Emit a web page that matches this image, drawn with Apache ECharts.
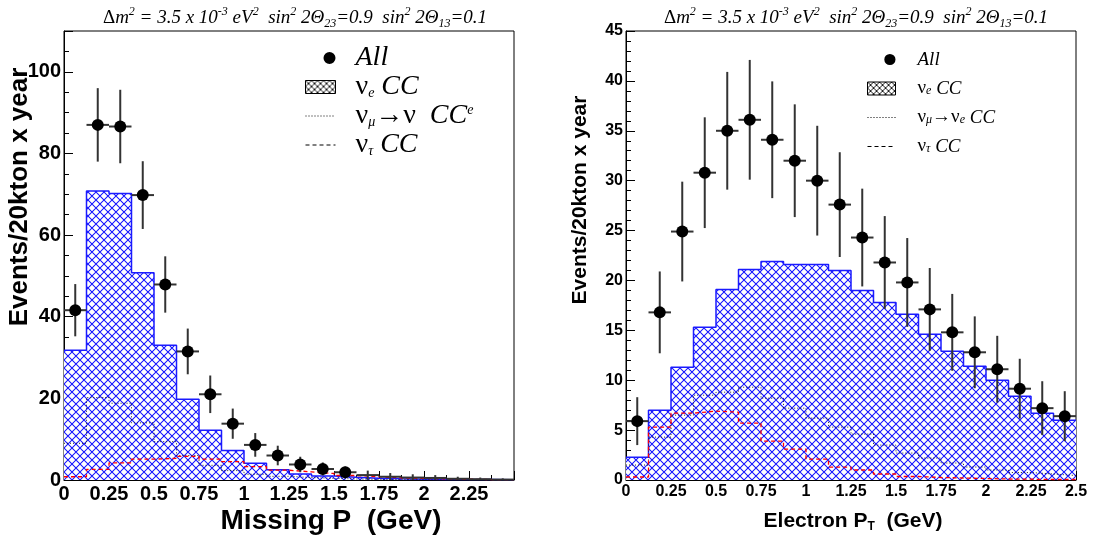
<!DOCTYPE html>
<html>
<head>
<meta charset="utf-8">
<script src="https://cdn.jsdelivr.net/npm/echarts@6/dist/echarts.min.js"></script>
<style>
html, body { margin: 0; padding: 0; background: #fff; }
#main { width: 1097px; height: 541px; }
</style>
</head>
<body>
<div id="main"></div>
<script>
// bin edges (GeV), same binning for both panels
var binEdges = [0, 0.125, 0.25, 0.375, 0.5, 0.625, 0.75, 0.875, 1, 1.125, 1.25,
	1.375, 1.5, 1.625, 1.75, 1.875, 2, 2.125, 2.25, 2.375, 2.5];

// left panel: missing P
var allMissP = [41.6, 87.0, 86.6, 69.8, 47.9, 31.5, 21.0, 13.8, 8.6, 6.0, 3.8, 2.7, 1.9, 1.2, 0.8, 0.6, 0.5, 0.3, 0.2, 0.1];
var errMissP = [6.4, 9.0, 9.0, 8.3, 6.9, 5.6, 4.6, 3.7, 2.9, 2.4, 1.9, 1.6, 1.4, 1.1, 0.9, 0.8, 0.7, 0.5, 0.4, 0.3];
var nueMissP = [31.8, 70.8, 70.2, 50.8, 33.0, 19.8, 12.2, 7.2, 4.1, 2.5, 1.5, 1.0, 0.65, 0.45, 0.3, 0.2, 0.15, 0.1, 0.1, 0.05];
var numuMissP = [9.0, 20.2, 18.8, 14.0, 9.4, 6.0, 3.6, 2.3, 1.4, 0.9, 0.6, 0.4, 0.25, 0.15, 0.1, 0.08, 0.05, 0.03, 0.02, 0.01];
var nutauMissP = [0.8, 2.6, 4.2, 5.1, 5.3, 5.8, 5.1, 4.5, 3.3, 2.4, 2.0, 1.6, 1.1, 0.8, 0.5, 0.4, 0.3, 0.2, 0.1, 0.1];

// right panel: electron pT
var allPt = [5.9, 16.8, 24.9, 30.8, 35.0, 36.1, 34.1, 32.0, 30.0, 27.6, 24.3, 21.8, 19.8, 17.1, 14.8, 12.8, 11.1, 9.15, 7.2, 6.4];
var errPt = [2.4, 4.1, 5.0, 5.55, 5.9, 6.0, 5.85, 5.65, 5.5, 5.25, 4.9, 4.65, 4.45, 4.15, 3.85, 3.6, 3.35, 3.0, 2.7, 2.5];
var nuePt = [2.27, 7.0, 11.3, 15.3, 19.1, 21.1, 21.9, 21.6, 21.6, 21.0, 19.0, 17.8, 16.6, 14.6, 12.9, 11.4, 10.0, 8.4, 6.7, 6.0];
var numuPt = [1.5, 4.3, 6.5, 8.5, 8.8, 9.3, 8.2, 7.2, 6.2, 5.3, 4.6, 3.5, 2.7, 2.2, 1.7, 1.3, 1.0, 0.75, 0.6, 0.45];
var nutauPt = [0.3, 5.3, 6.7, 6.9, 6.8, 5.7, 3.9, 3.1, 2.1, 1.3, 1.0, 0.6, 0.35, 0.25, 0.2, 0.15, 0.1, 0.08, 0.05, 0.05];

var titleText = '{g|Δ}{it|m}{sup|2}{it| = 3.5 x 10}{sup|-3}{it| eV}{sup|2}{it|  sin}{sup|2}{it| 2Θ}{sub|23}{it|=0.9  sin}{sup|2}{it| 2Θ}{sub|13}{it|=0.1}';
var yTitle = 'Events/20kton x year';

var legendLeft = {
	'All': '{it|All}',
	'νe CC': '{n|ν}{sub|e}{it| CC}',
	'νμ→νe CC': '{n|ν}{sub|μ}{n|→ν  }{it|CC}{sup|e}',
	'ντ CC': '{n|ν}{sub|τ}{it| CC}'
};
var legendRight = {
	'All': '{it|All}',
	'νe CC': '{n|ν}{sub|e}{it| CC}',
	'νμ→νe CC': '{n|ν}{sub|μ}{n|→ν}{sub|e}{it| CC}',
	'ντ CC': '{n|ν}{sub|τ}{it| CC}'
};

function makeHatch(color, size, lw) {
	var c = document.createElement('canvas');
	c.width = size; c.height = size;
	var ctx = c.getContext('2d');
	ctx.fillStyle = '#fff';
	ctx.fillRect(0, 0, size, size);
	ctx.strokeStyle = color;
	ctx.lineWidth = lw;
	ctx.beginPath();
	ctx.moveTo(-1, -1); ctx.lineTo(size + 1, size + 1);
	ctx.moveTo(size + 1, -1); ctx.lineTo(-1, size + 1);
	ctx.stroke();
	return c;
}
var blueHatch = { image: makeHatch('#1414ff', 8, 1.05), repeat: 'repeat' };
var blackHatch = { image: makeHatch('#000', 6, 0.9), repeat: 'repeat' };

// circle drawn at the right end of the icon box, like the reference legend
var dotIcon = 'path://M0,6L0.01,6L0,6.01Z M24,0A6,6 0 1 1 24,12A6,6 0 1 1 24,0Z';

function histData(vals) {
	var d = vals.map(function (v, i) { return [binEdges[i], v]; });
	d.push([binEdges[vals.length], vals[vals.length - 1]]);
	return d;
}
function pointData(vals, errs) {
	return vals.map(function (v, i) {
		return [(binEdges[i] + binEdges[i + 1]) / 2, v, errs[i], binEdges[i], binEdges[i + 1]];
	});
}

function errorBars(params, api) {
	var xc = api.value(0), y = api.value(1), e = api.value(2);
	var lo = api.value(3), hi = api.value(4);
	var pLo = api.coord([xc, Math.max(y - e, 0)]);
	var pHi = api.coord([xc, y + e]);
	var pL = api.coord([lo, y]);
	var pR = api.coord([hi, y]);
	var st = { stroke: '#333', lineWidth: 2 };
	return {
		type: 'group',
		children: [
			{ type: 'line', shape: { x1: pLo[0], y1: pLo[1], x2: pHi[0], y2: pHi[1] }, style: st },
			{ type: 'line', shape: { x1: pL[0], y1: pL[1], x2: pR[0], y2: pR[1] }, style: st }
		]
	};
}

function panelSeries(idx, all, err, nue, numu, nutau, dotSize) {
	return [
		{
			name: 'νe CC', type: 'line', xAxisIndex: idx, yAxisIndex: idx,
			step: 'end', symbol: 'none', z: 1,
			lineStyle: { color: '#1a1aff', width: 1.5 },
			itemStyle: { color: '#1a1aff' },
			areaStyle: { color: blueHatch, opacity: 1 },
			data: histData(nue)
		},
		{
			name: 'νμ→νe CC', type: 'line', xAxisIndex: idx, yAxisIndex: idx,
			step: 'end', symbol: 'none', z: 3,
			lineStyle: { color: '#222', width: 1, type: [1, 2] },
			itemStyle: { color: '#222' },
			data: histData(numu)
		},
		{
			name: 'ντ CC', type: 'line', xAxisIndex: idx, yAxisIndex: idx,
			step: 'end', symbol: 'none', z: 3,
			lineStyle: { color: '#ff0000', width: 1.3, type: [4, 3] },
			itemStyle: { color: '#ff0000' },
			data: histData(nutau)
		},
		{
			name: 'err', type: 'custom', xAxisIndex: idx, yAxisIndex: idx, z: 4,
			renderItem: errorBars, data: pointData(all, err)
		},
		{
			name: 'All', type: 'scatter', xAxisIndex: idx, yAxisIndex: idx, z: 5,
			symbolSize: function (v) { return v[1] >= 1.5 ? dotSize : 0; },
			itemStyle: { color: '#000', opacity: 1 },
			data: pointData(all, err).map(function (p) { return [p[0], p[1]]; })
		}
	];
}

function legendRich(big, small) {
	return {
		it: { fontFamily: 'Liberation Serif', fontStyle: 'italic', fontWeight: 'normal', fontSize: big, color: '#000', lineHeight: big - 2 },
		n: { fontFamily: 'Liberation Serif', fontWeight: 'normal', fontSize: big, color: '#000', lineHeight: big - 2 },
		sub: { fontFamily: 'Liberation Serif', fontStyle: 'italic', fontWeight: 'normal', fontSize: small, color: '#000', verticalAlign: 'bottom' },
		sup: { fontFamily: 'Liberation Serif', fontStyle: 'italic', fontWeight: 'normal', fontSize: small, color: '#000', verticalAlign: 'top' }
	};
}

function legendOpt(left, top, w, h, gap, pad, labels, big, small) {
	return {
		left: left, top: top, orient: 'vertical', itemWidth: w, itemHeight: h, itemGap: gap,
		selectedMode: false, padding: 0,
		lineStyle: { color: '#000', width: 1 },
		data: [
			{ name: 'All', icon: dotIcon, itemStyle: { color: '#000' } },
			{ name: 'νe CC', icon: 'rect', itemStyle: { color: blackHatch, borderColor: '#000', borderWidth: 1 } },
			{ name: 'νμ→νe CC', itemStyle: { opacity: 0 } },
			{ name: 'ντ CC', itemStyle: { opacity: 0 } }
		],
		formatter: function (name) { return labels[name]; },
		textStyle: { padding: [0, 0, 0, pad], rich: legendRich(big, small) }
	};
}

var titleRich = {
	it: { fontFamily: 'Liberation Serif', fontStyle: 'italic', fontWeight: 'normal', fontSize: 19, color: '#000', lineHeight: 24 },
	g: { fontFamily: 'Liberation Serif', fontWeight: 'normal', fontSize: 19, color: '#000', lineHeight: 24 },
	sup: { fontFamily: 'Liberation Serif', fontStyle: 'italic', fontWeight: 'normal', fontSize: 12, color: '#000', verticalAlign: 'top' },
	sub: { fontFamily: 'Liberation Serif', fontStyle: 'italic', fontWeight: 'normal', fontSize: 12, color: '#000', verticalAlign: 'bottom' }
};

function xAxisOpt(idx, fs, showMax) {
	return {
		type: 'value', gridIndex: idx, min: 0, max: 2.5, interval: 0.25,
		axisLine: { lineStyle: { color: '#000', width: 1 } },
		axisTick: { inside: true, length: 9, lineStyle: { color: '#000' } },
		minorTick: { show: true, splitNumber: 2, length: 5, lineStyle: { color: '#000' } },
		splitLine: { show: false },
		axisLabel: {
			color: '#000', fontFamily: 'Liberation Sans', fontWeight: 'bold', fontSize: fs,
			margin: 4, showMaxLabel: showMax, showMinLabel: true
		}
	};
}
function yAxisOpt(idx, max, interval, minor, fs) {
	return {
		type: 'value', gridIndex: idx, min: 0, max: max, interval: interval,
		axisLine: { show: true, lineStyle: { color: '#000', width: 1 } },
		axisTick: { show: true, inside: true, length: 9, lineStyle: { color: '#000' } },
		minorTick: { show: true, splitNumber: minor, length: 5, lineStyle: { color: '#000' } },
		splitLine: { show: false },
		axisLabel: {
			color: '#000', fontFamily: 'Liberation Sans', fontWeight: 'bold', fontSize: fs,
			margin: 3, showMaxLabel: max % interval === 0
		}
	};
}

var chart = echarts.init(document.getElementById('main'), null, { renderer: 'canvas' });
var option = {
	animation: false,
	backgroundColor: '#fff',
	title: [
		{ text: titleText, left: 290, top: 1, textAlign: 'center', textStyle: { rich: titleRich } },
		{ text: titleText, left: 851, top: 1, textAlign: 'center', textStyle: { rich: titleRich } }
	],
	legend: [
		legendOpt(305, 44, 30, 13, 1, 15, legendLeft, 28, 14),
		legendOpt(867, 50, 28, 13, 10, 17, legendRight, 19, 12)
	],
	grid: [
		{ left: 64, top: 31, width: 450, height: 449, show: true, borderColor: '#000', borderWidth: 1, backgroundColor: '#fff' },
		{ left: 626, top: 31, width: 450, height: 449, show: true, borderColor: '#000', borderWidth: 1, backgroundColor: '#fff' }
	],
	xAxis: [xAxisOpt(0, 20, false), xAxisOpt(1, 16, true)],
	yAxis: [yAxisOpt(0, 110, 20, 4, 20), yAxisOpt(1, 45, 5, 5, 16)],
	series: panelSeries(0, allMissP, errMissP, nueMissP, numuMissP, nutauMissP, 12)
		.concat(panelSeries(1, allPt, errPt, nuePt, numuPt, nutauPt, 12)),
	graphic: [
		{
			type: 'text', x: 20, y: 197, rotation: Math.PI / 2,
			style: { text: yTitle, align: 'center', verticalAlign: 'middle', fill: '#000', font: 'bold 26px "Liberation Sans"' }
		},
		{
			type: 'text', x: 580, y: 200, rotation: Math.PI / 2,
			style: { text: yTitle, align: 'center', verticalAlign: 'middle', fill: '#000', font: 'bold 21px "Liberation Sans"' }
		},
		{
			type: 'text', x: 331, y: 521,
			style: { text: 'Missing P  (GeV)', align: 'center', verticalAlign: 'middle', fill: '#000', font: 'bold 28px "Liberation Sans"' }
		},
		{
			type: 'text', x: 853, y: 521,
			style: {
				text: '{b|Electron P}{s|T}{b|  (GeV)}', align: 'center', verticalAlign: 'middle',
				rich: {
					b: { fill: '#000', font: 'bold 21px "Liberation Sans"', lineHeight: 24 },
					s: { fill: '#000', font: 'bold 12px "Liberation Sans"', verticalAlign: 'bottom' }
				}
			}
		}
	]
};
chart.setOption(option);
</script>
</body>
</html>
